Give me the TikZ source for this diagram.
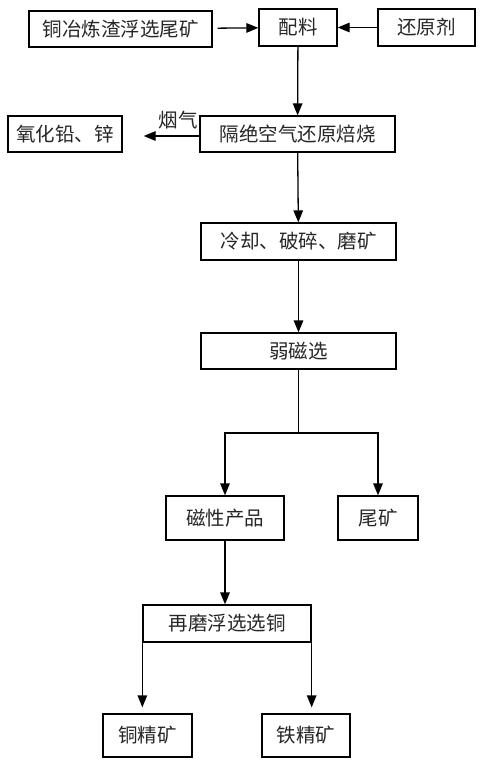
\documentclass[tikz,border=0pt]{standalone}
\usepackage{fontspec}
\newfontfamily\cjk{Noto Sans CJK SC}
\usetikzlibrary{arrows.meta}
\begin{document}
\begin{tikzpicture}[x=1pt,y=-1pt,
  box/.style={draw,line width=1.3pt,inner sep=0pt,font=\cjk\fontsize{19.5}{19.5}\selectfont,text=black!85},
  arr/.style={line width=1.3pt,-{Triangle[length=12pt,width=9.5pt]}},
  ln/.style={line width=1.3pt}]
\useasboundingbox[fill=white] (0,0) rectangle (486,767);
\node[box,minimum width=183pt,minimum height=36pt] (b1) at (120.5,29) {铜冶炼渣浮选尾矿};
\node[box,minimum width=78pt,minimum height=37pt] (pl) at (298,27.5) {配料};
\node[box,minimum width=97pt,minimum height=37pt] (hy) at (426.5,27.5) {还原剂};
\node[box,minimum width=195pt,minimum height=36pt] (gj) at (297.5,134) {隔绝空气还原焙烧};
\node[box,minimum width=114pt,minimum height=36pt] (yh) at (65,134) {氧化铅、锌};
\node[box,minimum width=195pt,minimum height=37pt] (lq) at (298.5,241.5) {冷却、破碎、磨矿};
\node[box,minimum width=195pt,minimum height=36pt] (rc) at (298.5,351) {弱磁选};
\node[box,minimum width=118pt,minimum height=44pt] (cx) at (225,518) {磁性产品};
\node[box,minimum width=80pt,minimum height=44pt] (wk) at (378,518) {尾矿};
\node[box,minimum width=168pt,minimum height=37pt] (zm) at (227,623.5) {再磨浮选选铜};
\node[box,minimum width=89pt,minimum height=43pt] (tj) at (147.5,735.5) {铜精矿};
\node[box,minimum width=88pt,minimum height=43pt] (te) at (306,735.5) {铁精矿};
\node[font=\cjk\fontsize{19.5}{19.5}\selectfont,text=black!85] (yq) at (178,120) {烟气};
\coordinate (j1) at (298.5,433);
\draw[arr,shorten <=5pt] (b1) -- (pl);
\draw[arr] (hy) -- (pl);
\draw[arr] (pl) -- (gj);
\draw[arr,shorten >=21pt] (gj.west |- 0,136) -- (yh.east |- 0,136);
\draw[arr] (gj) -- (lq);
\draw[arr] (lq) -- (rc);
\draw[ln] (rc) -- (j1);
\draw[arr] (j1) -| (cx.north);
\draw[arr] (j1) -| (wk.north);
\draw[arr] (cx) -- (cx |- zm.north);
\draw[arr,shorten >=6pt] (zm.south west) -- (zm.south west |- tj.north);
\draw[arr,shorten >=6pt] (zm.south east) -- (zm.south east |- te.north);
\end{tikzpicture}
\end{document}
